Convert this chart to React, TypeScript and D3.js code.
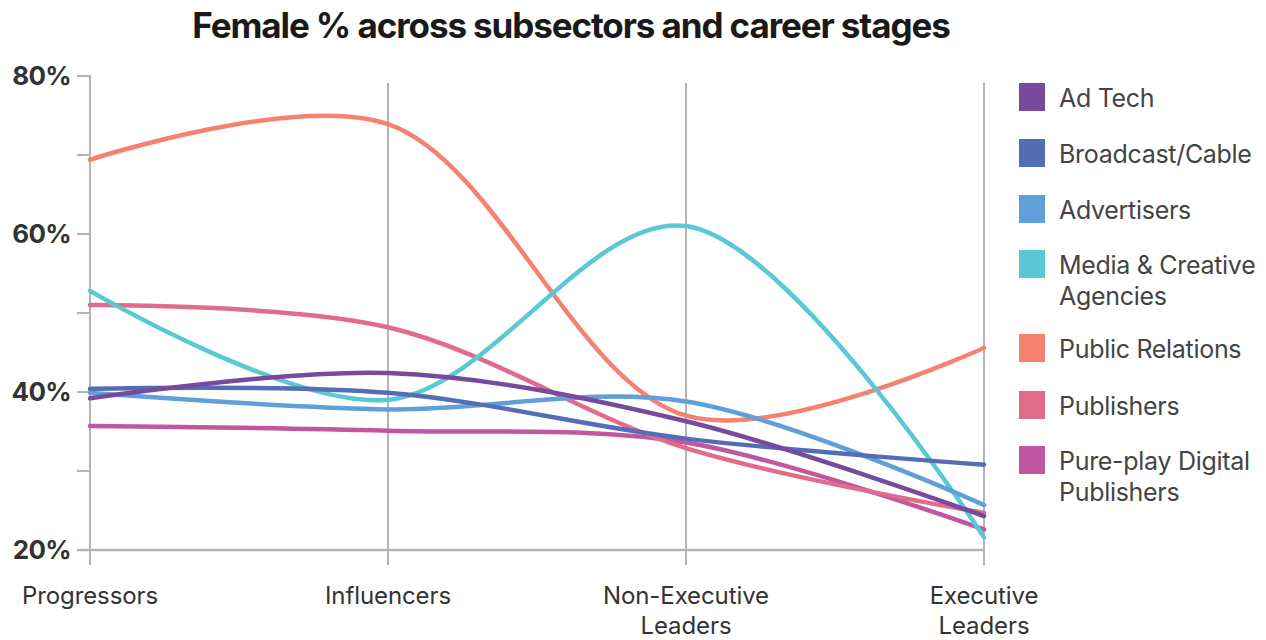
import * as d3 from "d3";

const stages = ["Progressors", "Influencers", "Non-Executive\nLeaders", "Executive\nLeaders"];
const subsectors = [
  "Ad Tech",
  "Broadcast/Cable",
  "Advertisers",
  "Media & Creative\nAgencies",
  "Public Relations",
  "Publishers",
  "Pure-play Digital\nPublishers",
];
const colors = ["#774a9e", "#546db4", "#609fd8", "#5bc8d5", "#f5826f", "#e06b8b", "#bf58a1"];

// female share (%) per stage, one row per subsector
const adTech = [39.2, 42.4, 36.3, 24.3];
const broadcast = [40.4, 39.9, 34.1, 30.8];
const advertisers = [39.9, 37.8, 38.8, 25.7];
const mediaAgencies = [52.8, 39.0, 61.0, 21.6];
const publicRelations = [69.4, 73.9, 37.0, 45.6];
const publishers = [51.0, 48.2, 32.9, 24.7];
const purePlay = [35.7, 35.1, 33.6, 22.6];
const series = [adTech, broadcast, advertisers, mediaAgencies, publicRelations, publishers, purePlay];

const yTicks = [20, 30, 40, 50, 60, 70, 80];

export default function App() {
  const width = 1266;
  const height = 640;

  const x = d3.scalePoint<string>().domain(stages).range([90, 984]);
  const y = d3.scaleLinear().domain([20, 80]).range([550, 76]);

  const line = d3
    .line<number>()
    .x((_, i) => x(stages[i]) as number)
    .y((d) => y(d))
    .curve(d3.curveCatmullRom.alpha(0.5));

  const legendY = [97, 153, 209, 264, 348, 405, 460];

  return (
    <svg width={width} height={height} style={{ display: "block", position: "absolute", left: 0, top: 0 }}>
      <rect width={width} height={height} fill="#fff" />
      <text
        x={571}
        y={38}
        textAnchor="middle"
        fontFamily="Inter"
        fontWeight={700}
        fontSize={35}
        letterSpacing={-1.1}
        fill="#1a1a1a"
      >
        Female % across subsectors and career stages
      </text>

      {/* vertical stage lines */}
      {stages.slice(1).map((s) => (
        <line key={s} x1={x(s)} x2={x(s)} y1={83} y2={565} stroke="#b4b4b8" strokeWidth={2} />
      ))}
      <line x1={90} x2={90} y1={75} y2={565} stroke="#b4b4b8" strokeWidth={2} />
      <line x1={77} x2={984} y1={y(20)} y2={y(20)} stroke="#b4b4b8" strokeWidth={2.5} />

      {yTicks.map((t) => (
        <g key={t}>
          <line x1={77} x2={90} y1={y(t)} y2={y(t)} stroke="#b4b4b8" strokeWidth={2} />
          {t % 20 === 0 && (
            <text
              x={71}
              y={y(t) + 9}
              textAnchor="end"
              fontFamily="Inter"
              fontWeight={700}
              fontSize={26}
              letterSpacing={-0.7}
              fill="#333"
            >
              {t}%
            </text>
          )}
        </g>
      ))}

      {stages.map((s) => (
        <text
          key={s}
          x={x(s)}
          y={604}
          textAnchor="middle"
          fontFamily="Inter"
          fontSize={24}
          letterSpacing={-0.1}
          fill="#333"
        >
          {s.split("\n").map((part, i) => (
            <tspan key={i} x={x(s)} dy={i === 0 ? 0 : 30}>
              {part}
            </tspan>
          ))}
        </text>
      ))}

      {series
        .map((vals, i) => ({ vals, i }))
        .reverse()
        .map(({ vals, i }) => (
          <path
            key={subsectors[i]}
            d={line(vals) ?? ""}
            fill="none"
            stroke={colors[i]}
            strokeWidth={4.5}
            strokeLinecap="round"
          />
        ))}

      {subsectors.map((name, i) => (
        <g key={name}>
          <rect x={1019} y={legendY[i] - 14} width={26} height={28} fill={colors[i]} />
          <text
            x={1059}
            y={legendY[i] + 10}
            fontFamily="Inter"
            fontSize={25}
            letterSpacing={-0.3}
            fill="#444"
          >
            {name.split("\n").map((part, k) => (
              <tspan key={k} x={1059} dy={k === 0 ? 0 : 31}>
                {part}
              </tspan>
            ))}
          </text>
        </g>
      ))}
    </svg>
  );
}
